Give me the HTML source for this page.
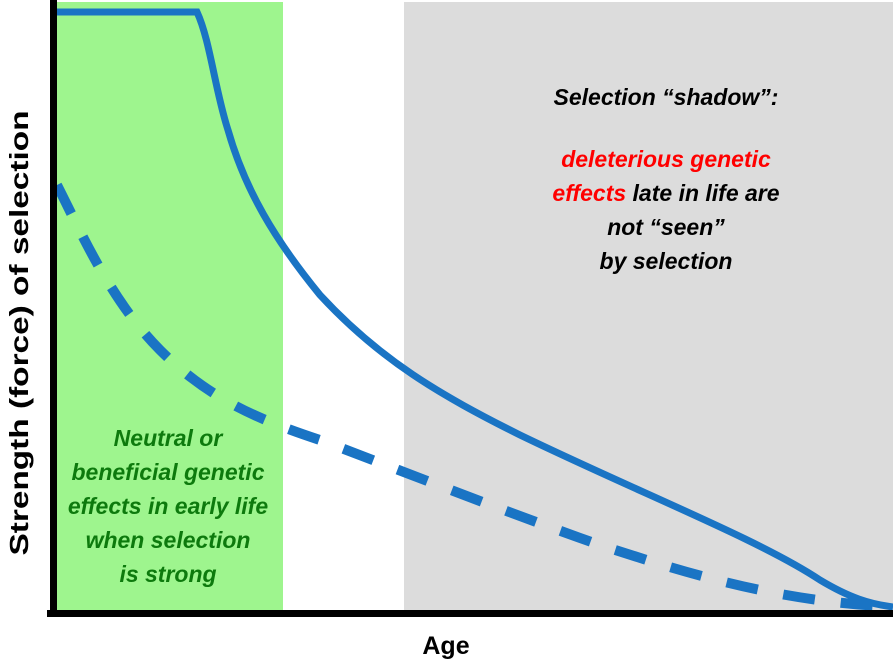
<!DOCTYPE html>
<html><head><style>body{margin:0;background:#fff}svg{display:block}</style></head><body>
<svg width="893" height="662" viewBox="0 0 893 662" xmlns="http://www.w3.org/2000/svg">
<rect x="57" y="2" width="226" height="609" fill="#9ef58e"/>
<rect x="404" y="2" width="489" height="609" fill="#dcdcdc"/>
<path d="M57 12 L197 12 C210 40 215 90 228 130 C245 190 275 240 320 295 C380 360 440 395 520 435 C640 493 760 540 820 580 C850 598 870 604 893 607" fill="none" stroke="#1a74c4" stroke-width="7"/>
<path d="M57 185 C80 230 110 300 160 350 C210 400 260 420 320 440 C400 470 500 510 600 545 C700 578 780 600 880 606" fill="none" stroke="#1a74c4" stroke-width="10" stroke-dasharray="32,26"/>
<rect x="50" y="0" width="7" height="617" fill="#000"/>
<rect x="47" y="610" width="846" height="7" fill="#000"/>
<text x="446" y="654" font-family="Liberation Sans, sans-serif" font-weight="bold" font-size="25" text-anchor="middle">Age</text>
<text transform="translate(28,333) rotate(-90)" font-family="Liberation Sans, sans-serif" font-weight="bold" font-size="26" text-anchor="middle" textLength="445" lengthAdjust="spacingAndGlyphs">Strength (force) of selection</text>
<g font-family="Liberation Sans, sans-serif" font-weight="bold" font-style="italic" font-size="23" text-anchor="middle">
<text x="666" y="105">Selection “shadow”:</text>
<text x="666" y="167" fill="#ff0000">deleterious genetic</text>
<text x="666" y="201"><tspan fill="#ff0000">effects</tspan> late in life are</text>
<text x="666" y="235">not “seen”</text>
<text x="666" y="269">by selection</text>
<g fill="#0d7a0d">
<text x="168" y="446">Neutral or</text>
<text x="168" y="480">beneficial genetic</text>
<text x="168" y="514">effects in early life</text>
<text x="168" y="548">when selection</text>
<text x="168" y="582">is strong</text>
</g></g>
</svg>
</body></html>
